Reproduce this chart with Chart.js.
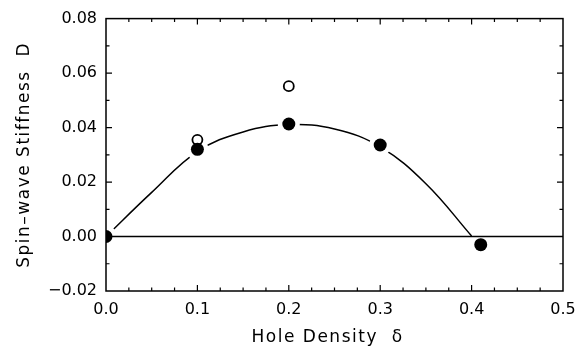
<!DOCTYPE html>
<html>
<head>
<meta charset="utf-8">
<script src="https://cdn.jsdelivr.net/npm/chart.js@4/dist/chart.umd.min.js"></script>
<style>
  html, body { margin: 0; padding: 0; background: #fff; }
  #chart { display: block; }
</style>
</head>
<body>
<canvas id="chart" width="587" height="347"></canvas>
<script>
// measured points (filled), alternative estimate (open), and the smooth fit curve
const deltaFilled = [0.0, 0.1, 0.2, 0.3, 0.41];
const stiffFilled = [0.0, 0.032, 0.0413, 0.0336, -0.003];
const deltaOpen = [0.1, 0.2];
const stiffOpen = [0.0355, 0.0552];
const deltaFit = [0.0, 0.05, 0.1, 0.15, 0.2, 0.25, 0.3, 0.35, 0.40];
const stiffFit = [0.0, 0.0162, 0.0312, 0.0384, 0.0411, 0.0395, 0.0329, 0.0194, 0.0002];
const zeroX = [0.0, 0.5];
const zeroY = [0.0, 0.0];

// axis ranges and tick marks
const xMin = 0, xMax = 0.5, xStep = 0.1, xMinorStep = 0.025;
const yMin = -0.02, yMax = 0.08, yStep = 0.02, yMinorStep = 0.01;

const pts = (xs, ys) => xs.map((x, i) => ({ x, y: ys[i] }));
const ink = '#000';
const fontFamily = '"DejaVu Sans", sans-serif';

// frame and inward ticks on all four sides
const framePlugin = {
  id: 'frame',
  afterLayout(chart) {
    // the axis titles in the original are letter-spaced
    Object.values(chart.scales).forEach((s) => {
      if (s._spacedTitle) return;
      const orig = s.drawTitle;
      s.drawTitle = function (...args) {
        const c = this.ctx;
        const prev = c.letterSpacing;
        c.letterSpacing = '1.5px';
        orig.apply(this, args);
        c.letterSpacing = prev || '0px';
      };
      s._spacedTitle = true;
    });
  },
  afterDatasetsDraw(chart) {
    const { ctx, chartArea: a, scales } = chart;
    const xs = scales.x, ys = scales.y;
    ctx.save();
    ctx.strokeStyle = ink;
    ctx.lineWidth = 1.5;
    ctx.strokeRect(a.left, a.top, a.right - a.left, a.bottom - a.top);
    ctx.lineWidth = 1.2;
    ctx.beginPath();
    const nx = Math.round((xMax - xMin) / xMinorStep);
    for (let i = 1; i < nx; i++) {
      const px = xs.getPixelForValue(xMin + i * xMinorStep);
      const len = i % 4 === 0 ? 6 : 3.5;
      ctx.moveTo(px, a.bottom); ctx.lineTo(px, a.bottom - len);
      ctx.moveTo(px, a.top); ctx.lineTo(px, a.top + len);
    }
    const ny = Math.round((yMax - yMin) / yMinorStep);
    for (let i = 1; i < ny; i++) {
      const py = ys.getPixelForValue(yMin + i * yMinorStep);
      const len = i % 2 === 0 ? 6 : 3.5;
      ctx.moveTo(a.left, py); ctx.lineTo(a.left + len, py);
      ctx.moveTo(a.right, py); ctx.lineTo(a.right - len, py);
    }
    ctx.stroke();
    ctx.restore();
  }
};

new Chart(document.getElementById('chart'), {
  type: 'scatter',
  data: {
    datasets: [
      {
        label: 'filled',
        data: pts(deltaFilled, stiffFilled),
        pointRadius: 6.5,
        pointBackgroundColor: ink,
        pointBorderWidth: 0,
        order: 0,
      },
      {
        label: 'open',
        data: pts(deltaOpen, stiffOpen),
        pointRadius: 5,
        pointBackgroundColor: '#fff',
        pointBorderColor: ink,
        pointBorderWidth: 1.8,
        order: 1,
      },
      {
        label: 'zero',
        data: pts(zeroX, zeroY),
        showLine: true,
        borderColor: ink,
        borderWidth: 1.5,
        pointRadius: 0,
        order: 2,
      },
      {
        label: 'halo',
        data: pts(deltaFilled, stiffFilled),
        pointRadius: 11,
        pointBackgroundColor: '#fff',
        pointBorderWidth: 0,
        order: 3,
      },
      {
        label: 'fit',
        data: pts(deltaFit, stiffFit),
        showLine: true,
        tension: 0.4,
        borderColor: ink,
        borderWidth: 1.5,
        pointRadius: 0,
        order: 4,
      },
    ],
  },
  options: {
    responsive: false,
    animation: false,
    devicePixelRatio: 1,
    layout: { padding: { top: 15.5, right: 24, left: 0, bottom: 0 } },
    plugins: { legend: { display: false }, tooltip: { enabled: false } },
    scales: {
      x: {
        type: 'linear',
        min: xMin,
        max: xMax,
        border: { display: false },
        grid: { display: false, drawTicks: false },
        ticks: {
          stepSize: xStep,
          padding: 9,
          color: ink,
          font: { family: fontFamily, size: 16 },
          callback: (v) => v.toFixed(1),
        },
        title: {
          display: true,
          // trailing spaces nudge the title a little left, as in the original
          text: 'Hole Density  δ  ',
          color: ink,
          font: { family: fontFamily, size: 17, lineHeight: 1.1 },
          padding: { top: 4, bottom: 0 },
        },
        afterFit: (s) => { s.height = 56; },
      },
      y: {
        type: 'linear',
        min: yMin,
        max: yMax,
        border: { display: false },
        grid: { display: false, drawTicks: false },
        ticks: {
          stepSize: yStep,
          padding: 9,
          color: ink,
          font: { family: fontFamily, size: 16 },
          callback: (v) => v.toFixed(2).replace('-', '\u2212'),
        },
        title: {
          display: true,
          text: 'Spin\u2013wave Stiffness  D',
          color: ink,
          font: { family: fontFamily, size: 17, lineHeight: 1.1 },
          padding: { top: 15.5, bottom: 0 },
        },
        afterFit: (s) => { s.width = 106; },
      },
    },
  },
  plugins: [framePlugin],
});
</script>
</body>
</html>
